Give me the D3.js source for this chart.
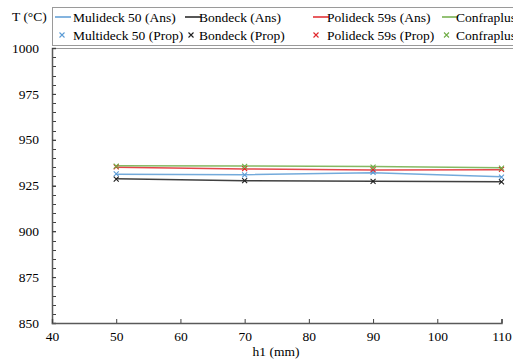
<!DOCTYPE html>
<html><head><meta charset="utf-8">
<script src="https://cdn.jsdelivr.net/npm/d3@7"></script>
<style>body{margin:0;background:#fff}</style>
</head><body><svg id="c" width="513" height="360"></svg>
<script>
const xValues = [50, 70, 90, 110];
const seriesNames = ["Mulideck 50", "Bondeck", "Polideck 59s", "Confraplus"];
const propNames = ["Multideck 50", "Bondeck", "Polideck 59s", "Confraplus"];
const colors = ["#5B9BD5", "#1f1f1f", "#E0262B", "#70AD47"];
const ansMultideck = [931.1, 930.9, 932.0, 929.8];
const ansBondeck = [928.7, 927.6, 927.3, 927.1];
const ansPolideck = [934.9, 934.0, 933.4, 933.6];
const ansConfraplus = [935.8, 935.6, 935.3, 934.7];
const propMultideck = [931.3, 930.8, 932.2, 929.6];
const propBondeck = [928.5, 927.7, 927.2, 927.0];
const propPolideck = [935.1, 934.2, 933.7, 933.8];
const propConfraplus = [935.6, 935.4, 935.0, 934.5];
const xTicks = [40, 50, 60, 70, 80, 90, 100, 110];
const yTicks = [850, 875, 900, 925, 950, 975, 1000];

const ans = [ansMultideck, ansBondeck, ansPolideck, ansConfraplus];
const prop = [propMultideck, propBondeck, propPolideck, propConfraplus];
const FF = '"Liberation Serif"';
const FS = "13.5px";

const svg = d3.select("#c");
const x = d3.scaleLinear().domain([40, 110]).range([52, 501.5]);
const y = d3.scaleLinear().domain([850, 1000]).range([323, 48]);

// plot top border
svg.append("line").attr("x1", 52).attr("x2", 513).attr("y1", 48.5).attr("y2", 48.5)
  .attr("stroke", "#9a9a9a").attr("stroke-width", 1);

// minor y ticks
const minor = d3.range(850, 1001, 5);
svg.append("g").selectAll("line").data(minor).join("line")
  .attr("x1", 52).attr("x2", 56).attr("y1", d => Math.round(y(d)) + 0.5).attr("y2", d => Math.round(y(d)) + 0.5)
  .attr("stroke", "#404040").attr("stroke-width", 1);

// y axis
const yAxis = svg.append("g").attr("transform", "translate(52,0)")
  .call(d3.axisLeft(y).tickValues(yTicks).tickSize(-4).tickPadding(13).tickFormat(d3.format("d")));
yAxis.select(".domain").attr("stroke", "#595959").attr("stroke-width", 1.5);
yAxis.selectAll(".tick line").attr("stroke", "#404040");
yAxis.selectAll("text").attr("fill", "#000").style("font-family", FF).style("font-size", FS);

// x axis
const xAxis = svg.append("g").attr("transform", "translate(0,323)")
  .call(d3.axisBottom(x).tickValues(xTicks).tickSize(-4).tickPadding(8).tickFormat(d3.format("d")));
xAxis.select(".domain").attr("stroke", "#595959").attr("stroke-width", 1.5);
xAxis.selectAll(".tick line").attr("stroke", "#404040");
xAxis.selectAll("text").attr("fill", "#000").style("font-family", FF).style("font-size", FS);

svg.append("text").attr("x", 276).attr("y", 356).attr("text-anchor", "middle")
  .style("font-family", FF).style("font-size", FS).text("h1 (mm)");

// lines
const line = d3.line().x((d, i) => x(xValues[i])).y(d => y(d));
ans.forEach((s, k) => {
  svg.append("path").datum(s).attr("d", line).attr("fill", "none")
    .attr("stroke", colors[k]).attr("stroke-width", 1.5).attr("opacity", 0.85);
});
// prop markers
const sym = d3.symbol().type(d3.symbolX).size(18);
prop.forEach((s, k) => {
  svg.append("g").selectAll("path").data(s).join("path")
    .attr("transform", (d, i) => `translate(${x(xValues[i])},${y(d)})`)
    .attr("d", sym).attr("fill", "none").attr("stroke", colors[k]).attr("stroke-width", 1.1);
});

// y title
svg.append("text").attr("x", 12).attr("y", 21).style("font-family", FF).style("font-size", FS).text("T (°C)");

// legend
svg.append("rect").attr("x", 52.5).attr("y", 7.5).attr("width", 470).attr("height", 38)
  .attr("fill", "#fff").attr("stroke", "#9a9a9a");
const lx = [55, 185, 313, 442];
const tx = [73, 199, 327, 456];
seriesNames.forEach((n, k) => {
  svg.append("line").attr("x1", lx[k]).attr("x2", lx[k] + 16).attr("y1", 17).attr("y2", 17)
    .attr("stroke", colors[k]).attr("stroke-width", 1.5);
  svg.append("text").attr("x", tx[k]).attr("y", 21.5).style("font-family", FF).style("font-size", FS).attr("fill", "#000").text(n + " (Ans)");
});
const mx = [62, 191, 316, 446.5];
propNames.forEach((n, k) => {
  svg.append("path").attr("transform", `translate(${mx[k]},35)`).attr("d", sym)
    .attr("fill", "none").attr("stroke", colors[k]).attr("stroke-width", 1.1);
  svg.append("text").attr("x", tx[k]).attr("y", 40).style("font-family", FF).style("font-size", FS).attr("fill", "#000").text(n + " (Prop)");
});
</script></body></html>
